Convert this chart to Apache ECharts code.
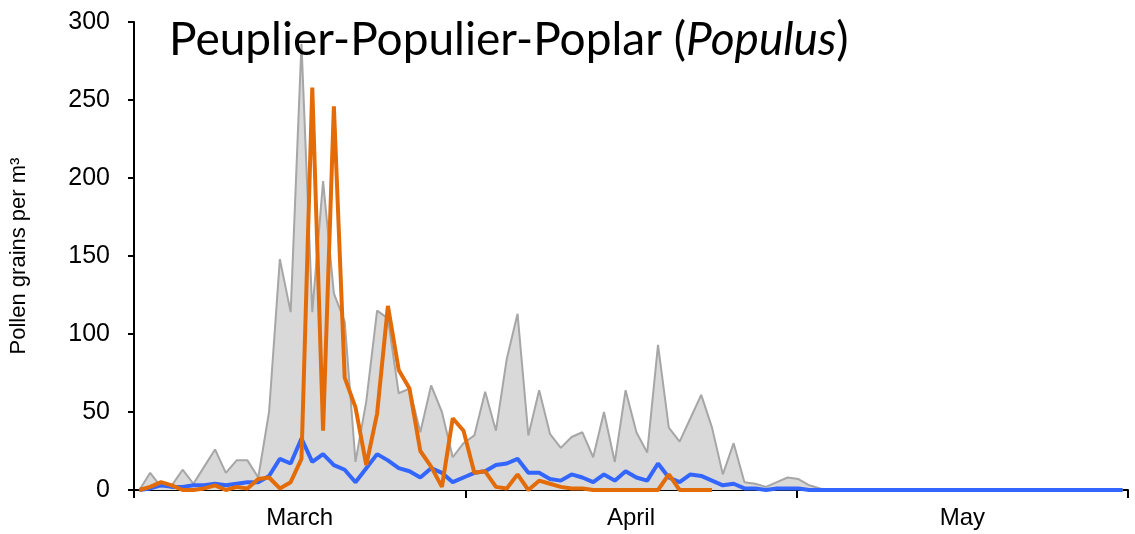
<!DOCTYPE html>
<html lang="en">
<head>
    <meta charset="UTF-8">
    <title>Populus</title>
    <script src="https://cdn.jsdelivr.net/npm/echarts@6/dist/echarts.min.js"></script>
    <style>
        html, body { margin: 0; padding: 0; background: #fff; }
        #chart { width: 1135px; height: 534px; }
    </style>
</head>
<body>
    <div id="chart"></div>
    <script>
        // months shown on the axis (March 1 .. May 31 = 92 days)
        var months = ['March', 'April', 'May'];
        var yTicks = { min: 0, max: 300, step: 50 };

        // grey area: total / reference counts
        var totalData = [
            0, 11, 2, 3, 13, 4, 15, 26, 11, 19,
            19, 8, 50, 148, 114, 286, 114, 198, 126, 108,
            18, 57, 115, 110, 62, 65, 37, 67, 50, 21,
            30, 35, 63, 38, 84, 113, 35, 64, 36, 27,
            34, 37, 21, 50, 18, 64, 37, 24, 93, 40,
            31, 46, 61, 40, 10, 30, 5, 4, 2, 5,
            8, 7, 3, 1, 0, 0, 0, 0, 0, 0,
            0, 0, 0, 0, 0, 0, 0, 0, 0, 0,
            0, 0, 0, 0, 0, 0, 0, 0, 0, 0,
            0, 0
        ];
        // blue line
        var blueData = [
            0, 1, 3, 2, 2, 3, 3, 4, 3, 4,
            5, 5, 9, 20, 17, 33, 18, 23, 16, 13,
            5, 14, 23, 19, 14, 12, 8, 14, 11, 5,
            8, 11, 12, 16, 17, 20, 11, 11, 7, 6,
            10, 8, 5, 10, 6, 12, 8, 6, 17, 8,
            5, 10, 9, 6, 3, 4, 1, 1, 0, 1,
            1, 1, 0, 0, 0, 0, 0, 0, 0, 0,
            0, 0, 0, 0, 0, 0, 0, 0, 0, 0,
            0, 0, 0, 0, 0, 0, 0, 0, 0, 0,
            0, 0
        ];
        // orange line (stops mid April)
        var orangeData = [
            0, 2, 5, 3, 0, 0, 1, 3, 0, 2,
            1, 7, 8, 1, 5, 20, 258, 38, 246, 72,
            53, 16, 49, 118, 77, 65, 25, 15, 2, 46,
            38, 11, 12, 2, 1, 10, 0, 6, 4, 2,
            1, 1, 0, 0, 0, 0, 0, 0, 0, 10,
            0, 0, 0, 0
        ];

        var days = [];
        for (var i = 0; i < totalData.length; i++) days.push(i + 1);

        var myChart = echarts.init(document.getElementById('chart'));

        var option = {
            backgroundColor: '#fff',
            animation: false,
            title: {
                text: '{n|Peuplier-Populier-Poplar (}{i|Populus}{n|)}',
                left: 164,
                top: 12,
                textStyle: {
                    rich: {
                        n: { fontFamily: 'Lato', fontSize: 46, fontWeight: 'normal', color: '#000' },
                        i: { fontFamily: 'Lato', fontSize: 46, fontWeight: 'normal', fontStyle: 'italic', color: '#000' }
                    }
                }
            },
            grid: { left: 134, right: 7, top: 22, bottom: 44, outerBoundsMode: 'none', containLabel: false },
            xAxis: [{
                type: 'category',
                data: days,
                boundaryGap: true,
                show: false
            }, {
                type: 'category',
                data: months,
                boundaryGap: true,
                position: 'bottom',
                axisLine: { show: true, lineStyle: { color: '#000', width: 2 } },
                axisTick: { show: true, length: 8, lineStyle: { color: '#000', width: 2 } },
                axisLabel: {
                    margin: 16,
                    fontFamily: 'Liberation Sans Narrow, Liberation Sans',
                    fontSize: 24,
                    color: '#000'
                },
                splitLine: { show: false }
            }],
            yAxis: {
                type: 'value',
                min: yTicks.min,
                max: yTicks.max,
                interval: yTicks.step,
                name: 'Pollen grains per m³',
                nameLocation: 'middle',
                nameRotate: 90,
                nameGap: 104,
                nameTextStyle: { fontFamily: 'Liberation Sans', fontSize: 22, color: '#000' },
                axisLine: { show: true, lineStyle: { color: '#000', width: 2 } },
                axisTick: { show: true, length: 6, lineStyle: { color: '#000', width: 2 } },
                axisLabel: { margin: 24, fontFamily: 'Liberation Sans', fontSize: 25, color: '#000' },
                splitLine: { show: false }
            },
            series: [{
                type: 'line',
                data: totalData,
                symbol: 'none',
                z: 1,
                lineStyle: { color: '#a6a6a6', width: 2 },
                areaStyle: { color: '#d9d9d9', opacity: 1 }
            }, {
                type: 'line',
                data: blueData,
                symbol: 'none',
                z: 2,
                lineStyle: { color: '#3366ff', width: 4 }
            }, {
                type: 'line',
                data: orangeData,
                symbol: 'none',
                z: 3,
                lineStyle: { color: '#e36c09', width: 4 }
            }]
        };

        myChart.setOption(option);
    </script>
</body>
</html>
